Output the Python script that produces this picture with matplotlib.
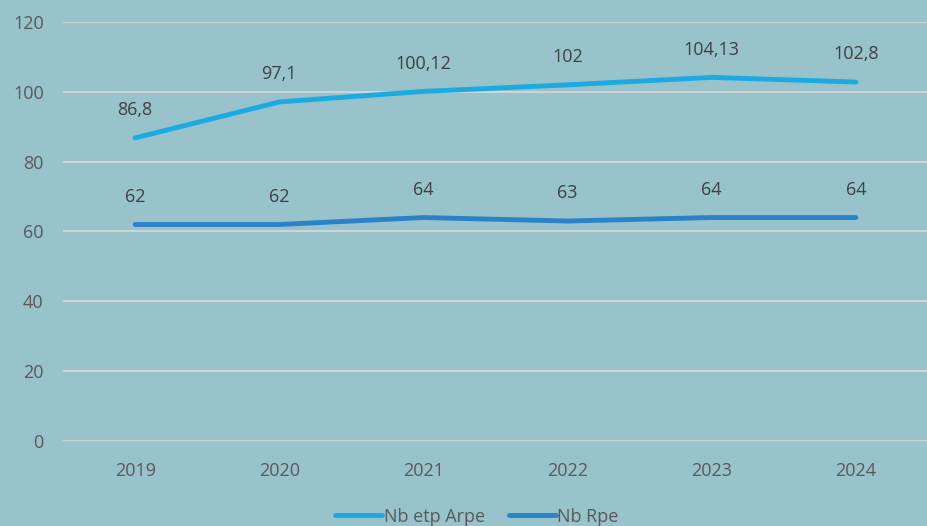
import matplotlib
matplotlib.use("Agg")
import matplotlib.pyplot as plt

years = ["2019", "2020", "2021", "2022", "2023", "2024"]
arpe = [86.8, 97.1, 100.12, 102, 104.13, 102.8]
rpe = [62, 62, 64, 63, 64, 64]
arpe_labels = ["86,8", "97,1", "100,12", "102", "104,13", "102,8"]
rpe_labels = ["62", "62", "64", "63", "64", "64"]

bg = "#98C3CB"
txt = "#595959"
lbl = "#404040"
c1 = "#1BAAE2"
c2 = "#2A82C9"

plt.rcParams['font.family'] = ['Open Sans', 'DejaVu Sans']

fig = plt.figure(figsize=(9.28, 5.26), dpi=100, facecolor=bg)
ax = fig.add_axes([0.068, 0.1616, 0.932, 0.7966], facecolor=bg)

x = list(range(len(years)))
ax.plot(x, arpe, color=c1, lw=3.5, solid_capstyle='round', label="Nb etp Arpe")
ax.plot(x, rpe, color=c2, lw=3.5, solid_capstyle='round', label="Nb Rpe")

for xi, v, l in zip(x, arpe, arpe_labels):
    ax.annotate(l, (xi, v), xytext=(0, 20), textcoords='offset points',
                ha='center', va='center', fontsize=13, color=lbl)
for xi, v, l in zip(x, rpe, rpe_labels):
    ax.annotate(l, (xi, v), xytext=(0, 20), textcoords='offset points',
                ha='center', va='center', fontsize=13, color=lbl)

ax.set_xlim(-0.5, 5.5)
ax.set_ylim(0, 120)
ax.set_yticks(range(0, 121, 20))
ax.set_xticks(x)
ax.set_xticklabels(years)
ax.grid(axis='y', color='#D9D9D9', lw=1.2)
ax.set_axisbelow(True)
for s in ax.spines.values():
    s.set_visible(False)
ax.tick_params(length=0, colors=txt, labelsize=13)
ax.tick_params(axis='x', pad=15)
ax.tick_params(axis='y', pad=14)

leg = fig.legend(loc='lower center', bbox_to_anchor=(0.514, -0.03), ncol=2, frameon=False,
                 fontsize=13, handlelength=2.6, handletextpad=0.1, columnspacing=1.3)
for t in leg.get_texts():
    t.set_color(txt)

fig.savefig("out.png", dpi=100, facecolor=bg)
